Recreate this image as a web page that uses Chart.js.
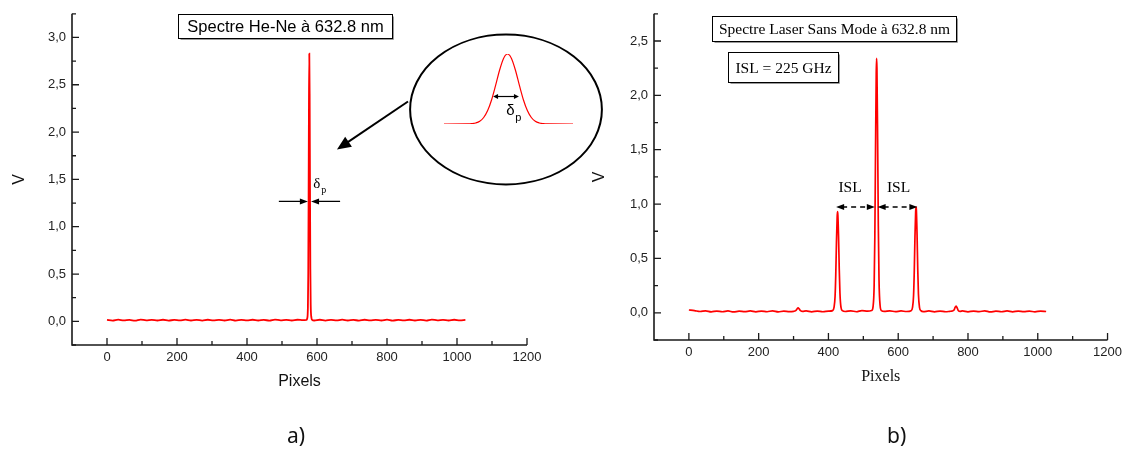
<!DOCTYPE html>
<html>
<head>
<meta charset="utf-8">
<script src="https://cdn.jsdelivr.net/npm/chart.js@4"></script>
<style>
body { margin: 0; background: #fff; width: 1127px; height: 450px; position: relative; overflow: hidden; }
canvas { position: absolute; }
#cA { left: 0; top: 0; }
#cB { left: 580px; top: 0; }
#cIn { left: 442px; top: 52px; }
.lab { position: absolute; top: 421px; font-family: "Noto Sans", sans-serif; font-size: 21px; color: #111; }
</style>
</head>
<body>
<canvas id="cA" width="620" height="450"></canvas>
<canvas id="cB" width="547" height="450"></canvas>
<canvas id="cIn" width="133" height="74"></canvas>
<div class="lab" style="left:287px">a)</div>
<div class="lab" style="left:887px">b)</div>
<script>
/* --- donnees --- */

// a) spectre He-Ne
var pixA = [0,16,32,48,64,80,96,112,128,144,160,176,192,208,224,240,256,272,288,304,320,336,352,368,384,400,416,432,448,464,480,496,512,528,544,560,
    570,572,574,575,576,577,578,579,580,581,582,584,586,
    592,608,624,640,656,672,688,704,720,736,752,768,784,800,816,832,848,864,880,896,912,928,944,960,976,992,1008,1024];
var voltA = [0.016,0.008,0.018,0.01,0.015,0.007,0.019,0.011,0.016,0.009,0.017,0.008,0.015,0.01,0.018,0.009,0.016,0.008,0.017,0.011,0.015,0.009,0.018,0.008,0.016,0.01,0.017,0.009,0.015,0.008,0.018,0.011,0.016,0.009,0.017,0.012,
    0.015,0.03,0.15,0.5,1.3,2.3,2.83,2.4,1.4,0.55,0.18,0.04,0.016,
    0.009,0.017,0.008,0.016,0.01,0.018,0.009,0.015,0.008,0.017,0.011,0.016,0.009,0.018,0.008,0.015,0.01,0.017,0.009,0.016,0.008,0.018,0.011,0.015,0.009,0.017,0.01,0.016];

// b) spectre laser sans mode
var pixB = [0,16,32,48,64,80,96,112,128,144,160,176,192,208,224,240,256,272,288,
    300,306,310,313,316,320,326,
    336,352,368,384,400,
    412,416,419,421,423,425,426,427,429,431,433,436,440,
    448,464,480,496,512,
    524,528,531,533,535,537,538,539,541,543,545,548,552,
    560,576,592,608,624,
    637,641,644,646,648,650,651,652,654,656,658,661,665,
    672,688,704,720,736,748,
    754,760,763,766,769,772,778,
    784,800,816,832,848,864,880,896,912,928,944,960,976,992,1008,1024];
var voltB = [0.026,0.02,0.012,0.018,0.009,0.016,0.01,0.017,0.008,0.015,0.011,0.017,0.009,0.016,0.01,0.018,0.009,0.015,0.011,
    0.014,0.02,0.035,0.045,0.036,0.02,0.013,
    0.017,0.009,0.016,0.01,0.015,
    0.02,0.05,0.15,0.35,0.65,0.88,0.93,0.9,0.7,0.4,0.18,0.05,0.02,
    0.012,0.018,0.01,0.02,0.016,
    0.022,0.06,0.25,0.7,1.5,2.2,2.34,2.25,1.6,0.8,0.3,0.07,0.02,
    0.013,0.018,0.011,0.017,0.012,
    0.02,0.05,0.16,0.38,0.7,0.93,0.975,0.95,0.72,0.4,0.17,0.05,0.02,
    0.011,0.017,0.009,0.016,0.01,0.014,
    0.016,0.025,0.05,0.062,0.045,0.022,0.014,
    0.017,0.009,0.016,0.011,0.018,0.008,0.015,0.01,0.017,0.009,0.016,0.011,0.015,0.009,0.016,0.012];

// zoom du pic (medaillon)
var zoomX = [-64,-40,-36,-32,-28,-24,-20,-16,-12,-8,-4,0,4,8,12,16,20,24,28,32,36,40,66];
var zoomY = [0,0.001,0.005,0.015,0.039,0.093,0.192,0.347,0.551,0.768,0.936,1,0.936,0.768,0.551,0.347,0.192,0.093,0.039,0.015,0.005,0.001,0];

// graduations
var xTicks = [0,200,400,600,800,1000,1200];
var xMinor = [100,300,500,700,900,1100];
var yTicksA = [0,0.5,1,1.5,2,2.5,3];
var yMinorA = [-0.25,0.25,0.75,1.25,1.75,2.25,2.75,3.25];
var yTicksB = [0,0.5,1,1.5,2,2.5];
var yMinorB = [-0.25,0.25,0.75,1.25,1.75,2.25,2.75];

var SANS = '"Liberation Sans", Arial, sans-serif';
var SERIF = '"Liberation Serif", "Times New Roman", serif';

function pts(xs, ys) {
    return xs.map(function(x, i) { return {x: x, y: ys[i]}; });
}

function P(ch, x, y) {
    return [ch.scales.x.getPixelForValue(x), ch.scales.y.getPixelForValue(y)];
}

function tete(ctx, x, y, ang, len, w) {
    ctx.save();
    ctx.translate(x, y);
    ctx.rotate(ang);
    ctx.beginPath();
    ctx.moveTo(0, 0);
    ctx.lineTo(-len, -w);
    ctx.lineTo(-len, w);
    ctx.closePath();
    ctx.fill();
    ctx.restore();
}

function boite(ctx, txt, a, b, font) {
    var x0 = Math.round(a[0]) + 0.5, y0 = Math.round(a[1]) + 0.5;
    var x1 = Math.round(b[0]) + 0.5, y1 = Math.round(b[1]) + 0.5;
    ctx.strokeStyle = '#999';
    ctx.lineWidth = 1;
    ctx.beginPath();
    ctx.moveTo(x1 + 1, y0 + 2); ctx.lineTo(x1 + 1, y1 + 1); ctx.lineTo(x0 + 2, y1 + 1);
    ctx.stroke();
    ctx.strokeStyle = '#000';
    ctx.strokeRect(x0, y0, x1 - x0, y1 - y0);
    ctx.fillStyle = '#000';
    ctx.font = font;
    ctx.textAlign = 'center';
    ctx.textBaseline = 'middle';
    ctx.fillText(txt, (x0 + x1) / 2, (y0 + y1) / 2 + 1);
}

// axes facon Origin : traits vers l'interieur
var axesOrigin = {
    id: 'axesOrigin',
    afterDraw: function(chart, args, opts) {
        var ctx = chart.ctx, a = chart.chartArea;
        var sx = chart.scales.x, sy = chart.scales.y;
        ctx.save();
        ctx.strokeStyle = '#1a1a1a';
        ctx.lineWidth = 1.6;
        ctx.beginPath();
        ctx.moveTo(a.left, a.top);
        ctx.lineTo(a.left, a.bottom);
        ctx.lineTo(a.right, a.bottom);
        ctx.stroke();
        ctx.lineWidth = 1.3;
        ctx.beginPath();
        xTicks.forEach(function(v) { var p = sx.getPixelForValue(v); ctx.moveTo(p, a.bottom); ctx.lineTo(p, a.bottom - 7); });
        xMinor.forEach(function(v) { var p = sx.getPixelForValue(v); ctx.moveTo(p, a.bottom); ctx.lineTo(p, a.bottom - 4); });
        opts.yMaj.forEach(function(v) { var p = sy.getPixelForValue(v); ctx.moveTo(a.left, p); ctx.lineTo(a.left + 7, p); });
        opts.yMin.forEach(function(v) { var p = sy.getPixelForValue(v); ctx.moveTo(a.left, p); ctx.lineTo(a.left + 4, p); });
        ctx.stroke();
        ctx.restore();
    }
};

// annotations du graphe a)
var notesA = {
    id: 'notesA',
    afterDraw: function(ch) {
        var ctx = ch.ctx;
        ctx.save();
        boite(ctx, 'Spectre He-Ne à 632.8 nm', P(ch, 203, 3.25), P(ch, 814, 2.99), '16.5px ' + SANS);

        // largeur du pic
        ctx.strokeStyle = '#000'; ctx.fillStyle = '#000'; ctx.lineWidth = 1.2;
        var l0 = P(ch, 491, 1.267), l1 = P(ch, 574, 1.267), r0 = P(ch, 666, 1.267), r1 = P(ch, 583, 1.267);
        ctx.beginPath(); ctx.moveTo(l0[0], l0[1]); ctx.lineTo(l1[0] - 5, l1[1]); ctx.moveTo(r0[0], r0[1]); ctx.lineTo(r1[0] + 5, r1[1]); ctx.stroke();
        tete(ctx, l1[0], l1[1], 0, 8, 3);
        tete(ctx, r1[0], r1[1], Math.PI, 8, 3);
        var d = P(ch, 589, 1.45);
        ctx.font = '15px ' + SERIF; ctx.textAlign = 'left'; ctx.textBaseline = 'middle';
        ctx.fillText('δ', d[0], d[1]);
        ctx.font = '10px ' + SERIF;
        ctx.fillText('p', d[0] + 8, d[1] + 6);

        // medaillon
        var e0 = P(ch, 866, 3.03), e1 = P(ch, 1414, 1.447);
        ctx.lineWidth = 2;
        ctx.beginPath();
        ctx.ellipse((e0[0] + e1[0]) / 2, (e0[1] + e1[1]) / 2, (e1[0] - e0[0]) / 2, (e1[1] - e0[1]) / 2, 0, 0, 2 * Math.PI);
        ctx.stroke();
        var f0 = P(ch, 860, 2.323), f1 = P(ch, 657, 1.816);
        var ang = Math.atan2(f1[1] - f0[1], f1[0] - f0[0]);
        ctx.beginPath(); ctx.moveTo(f0[0], f0[1]); ctx.lineTo(f1[0] - 10 * Math.cos(ang), f1[1] - 10 * Math.sin(ang)); ctx.stroke();
        tete(ctx, f1[0], f1[1], ang, 14, 6);

        // largeur dans le medaillon
        var g0 = P(ch, 1103, 2.376), g1 = P(ch, 1177, 2.376);
        ctx.lineWidth = 1.2;
        ctx.beginPath(); ctx.moveTo(g0[0] + 3, g0[1]); ctx.lineTo(g1[0] - 3, g1[1]); ctx.stroke();
        tete(ctx, g0[0], g0[1], Math.PI, 5, 2.5);
        tete(ctx, g1[0], g1[1], 0, 5, 2.5);
        var h = P(ch, 1141, 2.22);
        ctx.font = '15px ' + SANS;
        ctx.fillText('δ', h[0], h[1]);
        ctx.font = '11px ' + SANS;
        ctx.fillText('p', h[0] + 9, h[1] + 7);
        ctx.restore();
    }
};

// annotations du graphe b)
var notesB = {
    id: 'notesB',
    afterDraw: function(ch) {
        var ctx = ch.ctx;
        ctx.save();
        boite(ctx, 'Spectre Laser Sans Mode à 632.8 nm', P(ch, 66, 2.73), P(ch, 766, 2.5), '15.5px ' + SERIF);
        boite(ctx, 'ISL = 225 GHz', P(ch, 111, 2.4), P(ch, 427, 2.127), '15.5px ' + SERIF);

        ctx.strokeStyle = '#000'; ctx.fillStyle = '#000'; ctx.lineWidth = 1.4;
        [[422, 533], [541, 655]].forEach(function(s) {
            var a = P(ch, s[0], 0.973), b = P(ch, s[1], 0.973);
            ctx.setLineDash([5, 4]);
            ctx.beginPath(); ctx.moveTo(a[0] + 6, a[1]); ctx.lineTo(b[0] - 6, b[1]); ctx.stroke();
            ctx.setLineDash([]);
            tete(ctx, a[0], a[1], Math.PI, 8, 3);
            tete(ctx, b[0], b[1], 0, 8, 3);
        });
        ctx.font = '15.5px ' + SERIF; ctx.textAlign = 'center'; ctx.textBaseline = 'middle';
        var t1 = P(ch, 462, 1.145), t2 = P(ch, 601, 1.145);
        ctx.fillText('ISL', t1[0], t1[1]);
        ctx.fillText('ISL', t2[0], t2[1]);
        ctx.restore();
    }
};

function options(yMin, yMax, yTicks, yWidth, xHeight, pad, titleFont, titleBottom) {
    return {
        responsive: false,
        animation: false,
        devicePixelRatio: 1,
        layout: { padding: pad },
        plugins: { legend: { display: false }, tooltip: { enabled: false } },
        scales: {
            x: {
                type: 'linear', min: -100, max: 1200,
                grid: { display: false, drawTicks: false },
                border: { display: false },
                afterBuildTicks: function(s) { s.ticks = xTicks.map(function(v) { return {value: v}; }); },
                afterFit: function(s) { s.height = xHeight; },
                ticks: { autoSkip: false, maxRotation: 0, padding: 5, color: '#222', font: { family: SANS, size: 13 },
                    callback: function(v) { return String(v); } },
                title: { display: true, text: 'Pixels', color: '#111', font: { family: titleFont, size: 16 }, padding: { top: 0, bottom: titleBottom } }
            },
            y: {
                type: 'linear', min: yMin, max: yMax,
                grid: { display: false, drawTicks: false },
                border: { display: false },
                afterBuildTicks: function(s) { s.ticks = yTicks.map(function(v) { return {value: v}; }); },
                afterFit: function(s) { s.width = yWidth; },
                ticks: { autoSkip: false, padding: 6, color: '#222', font: { family: SANS, size: 13 },
                    callback: function(v) { return v.toFixed(1).replace('.', ','); } },
                title: { display: true, text: 'V', color: '#111', font: { family: SANS, size: 16 }, padding: { top: 10 } }
            }
        }
    };
}

var optA = options(-0.25, 3.25, yTicksA, 72, 105, { left: 0, top: 12, right: 93, bottom: 0 }, SANS, 59);
optA.plugins.axesOrigin = { yMaj: yTicksA, yMin: yMinorA };
var chartA = new Chart(document.getElementById('cA').getContext('2d'), {
    type: 'scatter',
    data: { datasets: [{ data: pts(pixA, voltA), showLine: true, borderColor: '#ff0000', borderWidth: 1.8, pointRadius: 0, cubicInterpolationMode: 'monotone' }] },
    options: optA,
    plugins: [axesOrigin, notesA]
});

var optB = options(-0.25, 2.75, yTicksB, 74, 110, { left: 0, top: 9, right: 17, bottom: 0 }, SERIF, 64);
optB.plugins.axesOrigin = { yMaj: yTicksB, yMin: yMinorB };
var chartB = new Chart(document.getElementById('cB').getContext('2d'), {
    type: 'scatter',
    data: { datasets: [{ data: pts(pixB, voltB), showLine: true, borderColor: '#ff0000', borderWidth: 1.7, pointRadius: 0, cubicInterpolationMode: 'monotone' }] },
    options: optB,
    plugins: [axesOrigin, notesB]
});

// medaillon : le pic agrandi
var chartZoom = new Chart(document.getElementById('cIn').getContext('2d'), {
    type: 'scatter',
    data: { datasets: [{ data: pts(zoomX, zoomY), showLine: true, borderColor: '#ff0000', borderWidth: 1.2, pointRadius: 0, cubicInterpolationMode: 'monotone' }] },
    options: {
        responsive: false, animation: false, devicePixelRatio: 1,
        layout: { padding: 2 },
        plugins: { legend: { display: false }, tooltip: { enabled: false } },
        scales: {
            x: { type: 'linear', min: -64, max: 66, display: false },
            y: { type: 'linear', min: 0, max: 1, display: false }
        }
    }
});
</script>
</body>
</html>
